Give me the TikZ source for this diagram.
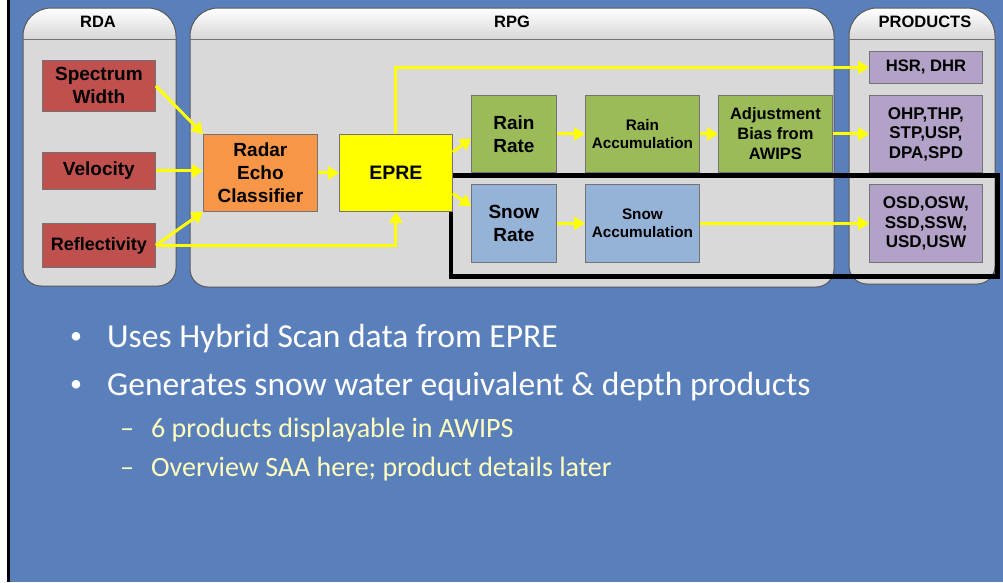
\documentclass[tikz,border=0pt]{standalone}
\usepackage{fontspec}
\setmainfont{Liberation Sans}
\newfontfamily\slidefont{Carlito}
\usetikzlibrary{arrows.meta}
\definecolor{bgblue}{RGB}{90,128,188}
\definecolor{panelgray}{RGB}{217,217,217}
\definecolor{hdrgray}{RGB}{215,215,215}
\definecolor{boxred}{RGB}{192,80,77}
\definecolor{boxorange}{RGB}{247,150,70}
\definecolor{boxyellow}{RGB}{255,255,0}
\definecolor{boxgreen}{RGB}{155,187,89}
\definecolor{boxblue}{RGB}{149,179,215}
\definecolor{boxpurple}{RGB}{179,162,199}
\definecolor{arrowyellow}{RGB}{255,255,0}
\definecolor{subtext}{RGB}{255,255,190}
\newcommand\drawpanel[4]{%
  \begin{scope}
    \clip[rounded corners=28pt] (#1,150) -- (#1,#2) -- (#3,#2) -- (#3,150)
      [rounded corners=18pt] -- (#3,#4) -- (#1,#4) -- cycle;
    \shade[top color=white, bottom color=hdrgray] (#1,#2) rectangle (#3,39);
    \fill[panelgray] (#1,39) rectangle (#3,#4);
  \end{scope}
  \draw[black!65, line width=1pt, rounded corners=28pt] (#1,150) -- (#1,#2) -- (#3,#2) -- (#3,150)
      [rounded corners=18pt] -- (#3,#4) -- (#1,#4) -- cycle;
  \draw[black!55, line width=1pt] (#1,39) -- (#3,39);
}
\begin{document}
\begin{tikzpicture}[x=1pt,y=-1pt,
  box/.style={draw=black!55, line width=0.8pt, align=center, inner sep=0pt,
    anchor=north west, font=\bfseries\fontsize{19}{23}\selectfont},
  redbox/.style={box, fill=boxred},
  orangebox/.style={box, fill=boxorange},
  yellowbox/.style={box, fill=boxyellow},
  greenbox/.style={box, fill=boxgreen},
  bluebox/.style={box, fill=boxblue},
  purplebox/.style={box, fill=boxpurple, font=\bfseries\fontsize{17}{19.5}\selectfont},
  hdr/.style={font=\bfseries\fontsize{16.5}{20}\selectfont, inner sep=0pt},
  arr/.style={draw=arrowyellow, line width=3pt, -{Triangle[length=11pt,width=13pt]}},
  bul/.style={anchor=base west, inner sep=0pt, text=white, font=\slidefont\fontsize{33.55}{40}\selectfont},
  dot/.style={anchor=base, inner sep=0pt, text=white, font=\slidefont\fontsize{24}{28}\selectfont},
  subbul/.style={anchor=base west, inner sep=0pt, text=subtext, font=\slidefont\fontsize{28}{34}\selectfont}
]
\useasboundingbox (0,0) rectangle (1003,582);
\fill[white] (0,0) rectangle (1003,582);
\fill[bgblue] (8,0) rectangle (1003,582);
\fill[black] (7,0) rectangle (9.5,582);

% panels
\drawpanel{23}{8}{176}{286}
\drawpanel{190}{8}{834}{287}
\drawpanel{849}{8}{995}{284}

\node[hdr] (rdah) at (98,22) {RDA};
\node[hdr] (rpgh) at (512,22) {RPG};
\node[hdr] (prodh) at (925,22) {PRODUCTS};

% highlight frame
\draw[black, line width=4.5pt] (451,175.5) rectangle (997.5,276.5);

% boxes
\node[redbox, minimum width=113, minimum height=51] (sw) at (42,60) {Spectrum\\Width};
\node[redbox, minimum width=113, minimum height=37] (vel) at (42,152) {Velocity};
\node[redbox, minimum width=113, minimum height=44, font=\bfseries\fontsize{18}{22}\selectfont] (refl) at (42,223) {Reflectivity};
\node[orangebox, minimum width=114, minimum height=77] (rec) at (203,134) {Radar\\Echo\\Classifier};
\node[yellowbox, minimum width=113, minimum height=77, font=\bfseries\fontsize{19.5}{23}\selectfont] (epre) at (339,134) {EPRE};
\node[greenbox, minimum width=85, minimum height=77] (rr) at (471,95) {Rain\\Rate};
\node[greenbox, minimum width=114, minimum height=77, font=\bfseries\fontsize{15.3}{18}\selectfont] (ra) at (585,95) {Rain\\Accumulation};
\node[greenbox, minimum width=114, minimum height=77, font=\bfseries\fontsize{16.5}{20}\selectfont] (adj) at (718,95) {Adjustment\\Bias from\\AWIPS};
\node[bluebox, minimum width=85, minimum height=78] (snr) at (471,184) {Snow\\Rate};
\node[bluebox, minimum width=114, minimum height=78, font=\bfseries\fontsize{15.3}{18}\selectfont] (sa) at (585,184) {Snow\\Accumulation};
\node[purplebox, minimum width=113, minimum height=32, font=\bfseries\fontsize{16.6}{20}\selectfont] (hsr) at (869,51) {HSR, DHR};
\node[purplebox, minimum width=113, minimum height=77] (ohp) at (869,95) {OHP,THP,\\STP,USP,\\DPA,SPD};
\node[purplebox, minimum width=113, minimum height=78] (osd) at (869,184) {OSD,OSW,\\SSD,SSW,\\USD,USW};

% connectors
\draw[arr] (sw.east) -- (rec.north west);
\draw[arr] (vel.east) -- (rec.west |- vel.east);
\draw[arr] (refl.east) -- (rec.south west);
\draw[arr] (refl.east) -| (epre.south);
\draw[arr] (rec.east) -- (epre.west);
\draw[arr] (epre.north) |- (hsr.west);
\draw[arr] (epre.20) -- (rr.186);
\draw[arr] (epre.-20) -- (snr.158);
\draw[arr] (rr.east) -- (ra.west);
\draw[arr] (ra.east) -- (adj.west);
\draw[arr] (adj.east) -- (ohp.west);
\draw[arr] (snr.east) -- (sa.west);
\draw[arr] (sa.east) -- (osd.west);

% bullet text
\node[dot] (bd1) at (76,343) {•};
\node[bul] (b1) at (107,347) {Uses Hybrid Scan data from EPRE};
\node[dot] (bd2) at (76,391) {•};
\node[bul] (b2) at (107,395) {Generates snow water equivalent \& depth products};
\node[subbul, anchor=base] (sd1) at (127,437) {–};
\node[subbul] (s1) at (151,437) {6 products displayable in AWIPS};
\node[subbul, anchor=base] (sd2) at (127,476) {–};
\node[subbul] (s2) at (151,476) {Overview SAA here; product details later};
\end{tikzpicture}
\end{document}
